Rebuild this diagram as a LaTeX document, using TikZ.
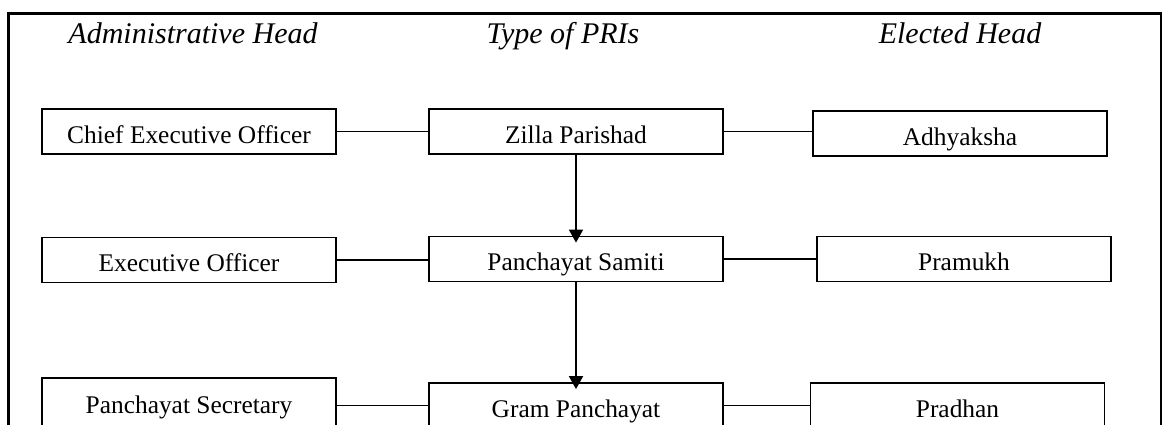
\documentclass[tikz,border=0pt]{standalone}
\usepackage{fontspec}
\setmainfont{Liberation Serif}
\usetikzlibrary{arrows.meta}

\begin{document}
\begin{tikzpicture}[x=0.5pt,y=-0.5pt,
  box/.style={draw,line width=0.9pt,minimum width=147pt,minimum height=22.5pt,
    inner sep=0pt,text height=11.5pt,text depth=0pt,font=\fontsize{12.7}{15}\selectfont},
  head/.style={anchor=base,font=\fontsize{15}{18}\selectfont\itshape},
  link/.style={line width=0.9pt},
  down/.style={line width=0.9pt,-{Triangle[width=7pt,length=6.5pt]}}]
  \useasboundingbox (0,0) rectangle (1162,424);
  \clip (0,0) rectangle (1162,424);
  \draw[line width=1.4pt] (8.5,430) -- (8.5,13.5) -- (1161,13.5) -- (1161,430);

  \node[head] (admin) at (193,43) {Administrative Head};
  \node[head] (type) at (563,43) {Type of PRIs};
  \node[head] (elect) at (960,43) {Elected Head};

  \node[box] (ceo) at (189,131.5) {Chief Executive Officer};
  \node[box] (zilla) at (576,131.5) {Zilla Parishad};
  \node[box] (adhy) at (960,133.5) {Adhyaksha};

  \node[box] (eo) at (189,260) {Executive Officer};
  \node[box] (samiti) at (576,259) {Panchayat Samiti};
  \node[box] (pram) at (964,259) {Pramukh};

  \node[box,minimum height=24pt] (sec) at (189,402) {Panchayat Secretary};
  \node[box] (gram) at (576,405.5) {Gram Panchayat};
  \node[box] (pradh) at (957.5,405.5) {Pradhan};

  \draw[link] (ceo.east) -- (ceo.east -| zilla.west);
  \draw[link] (zilla.east) -- (zilla.east -| adhy.west);
  \draw[link] (eo.east) -- (eo.east -| samiti.west);
  \draw[link] (samiti.east) -- (samiti.east -| pram.west);
  \draw[link] (sec.east |- gram.west) -- (gram.west);
  \draw[link] (gram.east) -- (pradh.west);

  \draw[down] (zilla.south) -- ([yshift=-3.5pt]samiti.north);
  \draw[down] (samiti.south) -- ([yshift=-3.5pt]gram.north);
\end{tikzpicture}
\end{document}
